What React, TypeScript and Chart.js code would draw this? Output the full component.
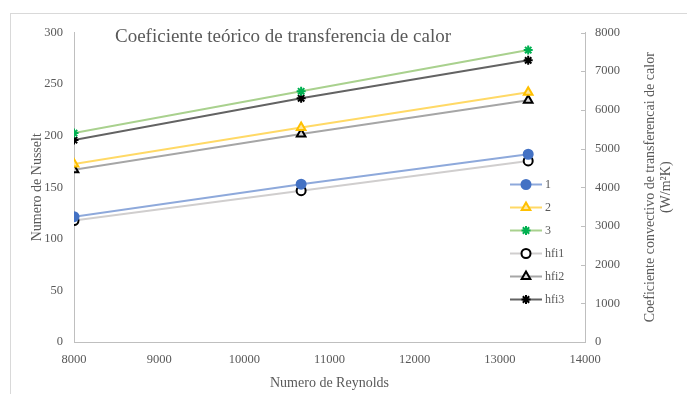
import React, { useEffect, useRef } from 'react';
import { Chart, registerables } from 'chart.js';
import { drawPoint } from 'chart.js/helpers';

Chart.register(...registerables);

const TITLE = 'Coeficiente teórico de transferencia de calor';
const X_TITLE = 'Numero de Reynolds';
const Y_LEFT_TITLE = 'Numero de Nusselt';
const Y_RIGHT_TITLE = ['Coeficiente convectivo de transferencai de calor', '(W/m²K)'];

const reynolds = [8000, 10667, 13333];
const nu1 = [121.5, 153, 182];
const nu2 = [172.5, 208, 242];
const nu3 = [202.5, 243, 283];
const hfi1 = [3140, 3910, 4680];
const hfi2 = [4450, 5375, 6250];
const hfi3 = [5220, 6300, 7280];
const seriesLabels = ['1', '2', '3', 'hfi1', 'hfi2', 'hfi3'];

const FONT = "'Liberation Serif', 'Times New Roman', serif";
const TEXT = '#595959';
const AXIS = '#BFBFBF';

const pts = (ys: number[]) => ys.map((y, i) => ({ x: reynolds[i], y }));
const plain = (v: any) => String(v);

const titlePlugin = {
  id: 'overlayTitle',
  afterDraw(chart: any) {
    const { ctx, chartArea } = chart;
    ctx.save();
    ctx.fillStyle = TEXT;
    ctx.font = `19px ${FONT}`;
    ctx.textAlign = 'left';
    ctx.textBaseline = 'middle';
    ctx.fillText(TITLE, chartArea.left + 41, chartArea.top + 5);
    ctx.font = `14px ${FONT}`;
    ctx.textAlign = 'center';
    const cy = (chartArea.top + chartArea.bottom) / 2;
    Y_RIGHT_TITLE.forEach((line, i) => {
      ctx.save();
      ctx.translate(chartArea.right + 65 + i * 16, cy);
      ctx.rotate(-Math.PI / 2);
      ctx.fillText(line, 0, 0);
      ctx.restore();
    });
    const y1 = chart.scales.y1;
    ctx.strokeStyle = AXIS;
    ctx.lineWidth = 1;
    y1.ticks.forEach((t: any) => {
      const py = Math.round(y1.getPixelForValue(t.value)) + 0.5;
      ctx.beginPath();
      ctx.moveTo(chartArea.right - 4, py);
      ctx.lineTo(chartArea.right, py);
      ctx.stroke();
    });
    ctx.restore();
  },
};

const legendPlugin = {
  id: 'insideLegend',
  afterDraw(chart: any) {
    const { ctx, chartArea } = chart;
    const x0 = chartArea.right - 75;
    const y0 = chartArea.top + 152;
    ctx.save();
    chart.data.datasets.forEach((ds: any, i: number) => {
      const y = y0 + i * 23;
      ctx.strokeStyle = ds.borderColor;
      ctx.lineWidth = ds.borderWidth;
      ctx.beginPath();
      ctx.moveTo(x0, y);
      ctx.lineTo(x0 + 32, y);
      ctx.stroke();
      ctx.fillStyle = ds.pointBackgroundColor;
      ctx.strokeStyle = ds.pointBorderColor;
      ctx.lineWidth = ds.pointBorderWidth;
      drawPoint(ctx, { pointStyle: ds.pointStyle, radius: ds.pointRadius, borderWidth: ds.pointBorderWidth, rotation: 0 }, x0 + 16, y);
      ctx.fillStyle = TEXT;
      ctx.font = `12px ${FONT}`;
      ctx.textAlign = 'left';
      ctx.textBaseline = 'middle';
      ctx.fillText(ds.label, x0 + 35, y);
    });
    ctx.restore();
  },
};

const styles = [
  { line: '#8EA9DB', fill: '#4472C4', border: '#4472C4', style: 'circle', r: 4.5, axis: 'y' },
  { line: '#FFD966', fill: '#FFE699', border: '#FFC000', style: 'triangle', r: 5, axis: 'y' },
  { line: '#A9D18E', fill: '#00B050', border: '#00B050', style: 'star', r: 4.5, axis: 'y' },
  { line: '#D0CECE', fill: '#FFFFFF', border: '#000000', style: 'circle', r: 4.5, axis: 'y1' },
  { line: '#A6A6A6', fill: '#D9D9D9', border: '#000000', style: 'triangle', r: 5, axis: 'y1' },
  { line: '#636363', fill: '#000000', border: '#000000', style: 'star', r: 4.5, axis: 'y1' },
];
const seriesData = [nu1, nu2, nu3, hfi1, hfi2, hfi3];

export default function App() {
  const ref = useRef<HTMLCanvasElement | null>(null);
  useEffect(() => {
    if (!ref.current) return;
    const chart = new Chart(ref.current, {
      type: 'line',
      data: {
        datasets: seriesData.map((d, i) => ({
          label: seriesLabels[i],
          data: pts(d),
          yAxisID: styles[i].axis,
          borderColor: styles[i].line,
          borderWidth: 2,
          pointStyle: styles[i].style,
          pointRadius: styles[i].r,
          pointBackgroundColor: styles[i].fill,
          pointBorderColor: styles[i].border,
          pointBorderWidth: 2,
          tension: 0,
          fill: false,
        })) as any,
      },
      options: {
        responsive: false,
        animation: false,
        layout: { padding: { top: 17, left: 0, right: 0, bottom: 0 } },
        plugins: { legend: { display: false }, tooltip: { enabled: false }, title: { display: false } },
        scales: {
          x: {
            type: 'linear',
            min: 8000,
            max: 14000,
            ticks: { stepSize: 1000, color: TEXT, font: { family: FONT, size: 12.5 }, padding: 10, maxRotation: 0, callback: plain },
            grid: { display: false, drawTicks: false },
            border: { display: true, color: AXIS },
            title: { display: true, text: X_TITLE, color: TEXT, font: { family: FONT, size: 14 }, padding: { top: 0, bottom: 2 } },
            afterFit: (s: any) => { s.height = 52; },
          },
          y: {
            position: 'left',
            min: 0,
            max: 300,
            ticks: { stepSize: 50, color: TEXT, font: { family: FONT, size: 12.5 }, padding: 11, callback: plain },
            grid: { display: false, drawTicks: false },
            border: { display: true, color: AXIS },
            title: { display: true, text: Y_LEFT_TITLE, color: TEXT, font: { family: FONT, size: 14 }, padding: { top: 17.6, bottom: 0 } },
            afterFit: (s: any) => { s.width = 63; },
          },
          y1: {
            position: 'right',
            min: 0,
            max: 8000,
            ticks: { stepSize: 1000, color: TEXT, font: { family: FONT, size: 12.5 }, padding: 10, callback: plain },
            grid: { display: false, drawTicks: false },
            border: { display: true, color: AXIS },
            title: { display: false },
            afterFit: (s: any) => { s.width = 102; },
          },
        },
      } as any,
      plugins: [titlePlugin, legendPlugin],
    });
    return () => chart.destroy();
  }, []);
  return (
    <div style={{ position: 'absolute', left: 10, top: 13, borderLeft: '1px solid #D9D9D9', borderTop: '1px solid #D9D9D9' }}>
      <canvas ref={ref} width={676} height={380} style={{ display: 'block' }} />
    </div>
  );
}
